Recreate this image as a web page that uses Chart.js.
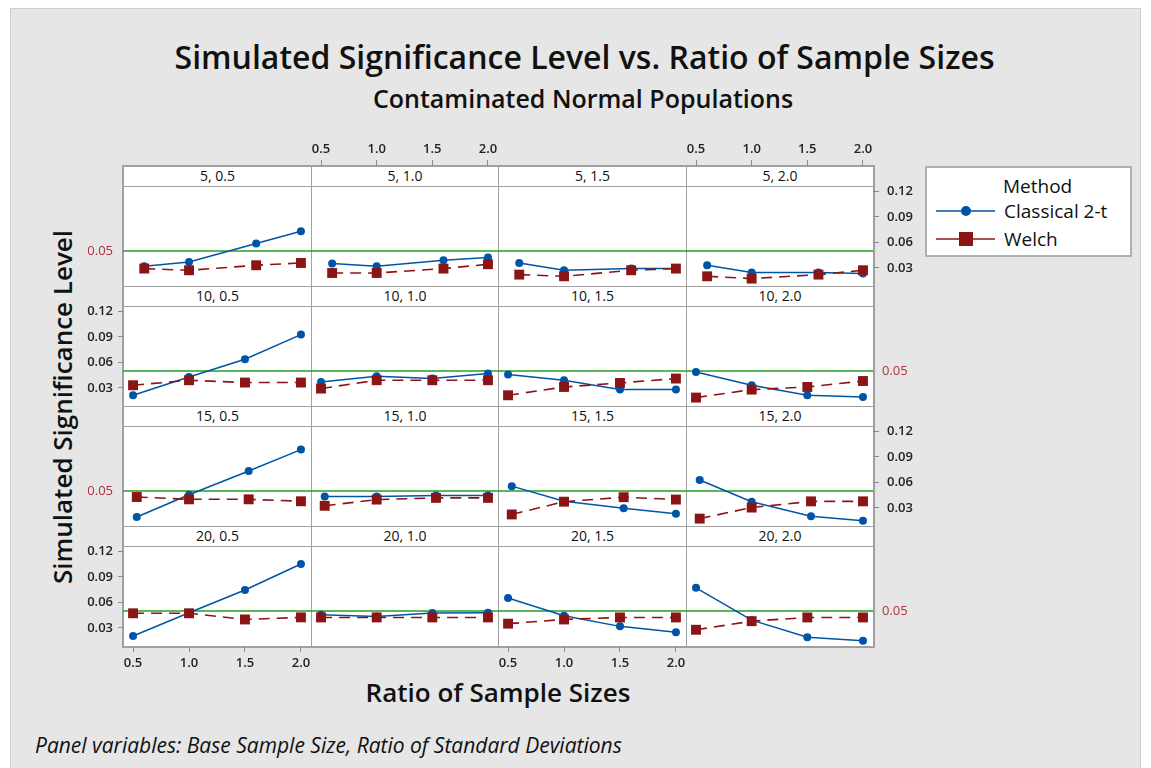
<!DOCTYPE html>
<html lang="en">
<head>
  <meta charset="UTF-8" />
  <title>Simulated Significance Level vs. Ratio of Sample Sizes</title>
  <script src="https://cdn.jsdelivr.net/npm/chart.js"></script>
  <style>
    body {
      margin: 0;
      background: #ffffff;
      font-family: "Open Sans", Arial, sans-serif;
    }
    #figure {
      position: absolute;
      left: 10px;
      top: 8px;
      width: 1131px;
      height: 770px;
      background: #e6e6e6;
      border: 1px solid #cfcfcf;
      box-sizing: border-box;
    }
    .txt {
      position: absolute;
      white-space: nowrap;
      color: #111;
    }
    .cell {
      position: absolute;
      background: #ffffff;
      border: 1px solid #a0a0a0;
      box-sizing: border-box;
    }
    .strip {
      font-size: 14px;
      text-align: center;
      line-height: 18px;
      color: #111;
    }
    .panel {
      position: absolute;
    }
    #frame {
      position: absolute;
      left: 122px;
      top: 165px;
      width: 753px;
      height: 483px;
      border: 1px solid #a0a0a0;
      box-sizing: border-box;
    }
    #legend {
      position: absolute;
      left: 925px;
      top: 166px;
      width: 207px;
      height: 91px;
      background: #fff;
      border: 2px solid #b0b0b0;
      box-sizing: border-box;
      font-size: 19px;
      line-height: 20px;
      color: #111;
    }
    #legend .row {
      position: absolute;
      left: 8px;
      height: 14px;
    }
    #legend svg { position: absolute; left: 0; top: 0; }
    #legend span { position: absolute; left: 69px; white-space: nowrap; }
  </style>
</head>
<body>
  <div id="figure"></div>
  <div id="grid"></div>
  <div id="frame"></div>

  <div class="txt" style="left:0;width:1169px;top:37px;line-height:40px;text-align:center;font-size:32px;font-weight:600;">Simulated Significance Level vs. Ratio of Sample Sizes</div>
  <div class="txt" style="left:0;width:1166px;top:83px;line-height:30px;text-align:center;font-size:25px;font-weight:600;">Contaminated Normal Populations</div>
  <div class="txt" style="left:62px;top:407px;line-height:30px;font-size:26px;font-weight:600;transform:translate(-50%,-50%) rotate(-90deg);">Simulated Significance Level</div>
  <div class="txt" style="left:0;width:996px;top:677px;line-height:30px;text-align:center;font-size:26px;font-weight:600;">Ratio of Sample Sizes</div>
  <div class="txt" style="left:35px;top:733px;line-height:24px;font-size:21px;font-style:italic;">Panel variables: Base Sample Size, Ratio of Standard Deviations</div>

  <div id="legend">
    <span style="left:76px;top:8px;">Method</span>
    <div class="row" style="top:37px;">
      <svg width="62" height="12"><line x1="1" y1="6" x2="60" y2="6" stroke="#0054a6" stroke-width="1.5"/><circle cx="31" cy="6" r="5" fill="#0054a6"/></svg>
      <span style="top:-4px;">Classical 2-t</span>
    </div>
    <div class="row" style="top:64px;">
      <svg width="62" height="14"><line x1="1" y1="7" x2="60" y2="7" stroke="#8b1414" stroke-width="1.5"/><rect x="24" y="0" width="14" height="14" fill="#8b1414"/></svg>
      <span style="top:-3px;">Welch</span>
    </div>
  </div>

  <script>
    // panel variables
    const baseSizes = [5, 10, 15, 20];
    const sdRatios = ['0.5', '1.0', '1.5', '2.0'];

    // ratio of sample sizes actually used for each base size
    const ratiosN5 = [0.6, 1.0, 1.6, 2.0];
    const ratiosN10 = [0.5, 1.0, 1.5, 2.0];
    const ratiosN15 = [0.533, 1.0, 1.533, 2.0];
    const ratiosN20 = [0.5, 1.0, 1.5, 2.0];

    // simulated significance level, one row per ratio of SDs (0.5, 1.0, 1.5, 2.0)
    const classicalN5 = [
      [0.032, 0.037, 0.0587, 0.0732],
      [0.0352, 0.032, 0.0391, 0.0422],
      [0.0359, 0.0273, 0.0293, 0.0293],
      [0.0332, 0.0246, 0.0246, 0.0234]
    ];
    const welchN5 = [
      [0.0293, 0.0273, 0.0332, 0.0359],
      [0.0241, 0.0241, 0.0293, 0.0344],
      [0.0222, 0.0202, 0.0273, 0.0293],
      [0.0202, 0.0175, 0.0222, 0.0273]
    ];
    const classicalN10 = [
      [0.0214, 0.0429, 0.0638, 0.0928],
      [0.0371, 0.0438, 0.0411, 0.0469],
      [0.0458, 0.0391, 0.0281, 0.0281],
      [0.0488, 0.0332, 0.0214, 0.0194]
    ];
    const welchN10 = [
      [0.0332, 0.0391, 0.0364, 0.0364],
      [0.0293, 0.0391, 0.0391, 0.0391],
      [0.0214, 0.0312, 0.0359, 0.0411],
      [0.0187, 0.0281, 0.0312, 0.0382]
    ];
    const classicalN15 = [
      [0.0194, 0.0455, 0.0735, 0.0987],
      [0.0435, 0.0435, 0.0447, 0.0447],
      [0.0557, 0.038, 0.0297, 0.0232],
      [0.063, 0.0374, 0.0204, 0.0151]
    ];
    const welchN15 = [
      [0.0429, 0.0402, 0.0402, 0.0379],
      [0.0326, 0.0399, 0.0419, 0.0419],
      [0.0224, 0.0374, 0.0427, 0.0399],
      [0.0175, 0.0305, 0.0378, 0.0378]
    ];
    const classicalN20 = [
      [0.0206, 0.048, 0.0747, 0.1053],
      [0.0455, 0.0435, 0.0475, 0.048],
      [0.0653, 0.0445, 0.0319, 0.0251],
      [0.0773, 0.0392, 0.0191, 0.015]
    ];
    const welchN20 = [
      [0.0473, 0.0473, 0.040, 0.0425],
      [0.0424, 0.0424, 0.0424, 0.0424],
      [0.0351, 0.040, 0.0424, 0.0424],
      [0.0279, 0.038, 0.0424, 0.0424]
    ];

    const refLevel = 0.05;
    const yTicks = [0.03, 0.06, 0.09, 0.12];
    const xTicks = [0.5, 1.0, 1.5, 2.0];

    const ratiosByRow = [ratiosN5, ratiosN10, ratiosN15, ratiosN20];
    const classicalByRow = [classicalN5, classicalN10, classicalN15, classicalN20];
    const welchByRow = [welchN5, welchN10, welchN15, welchN20];

    // axis ranges (the y range also covers the strip above each plot)
    const xMin = 0.41, xMax = 2.09;
    const yMin = 0.0088, yMax = 0.15;

    // layout
    const gridLeft = 123, gridTop = 166, colW = 187.5, stripH = 20, plotH = 100;
    const M = { l: 50, r: 50, t: 30, b: 30 };

    const blue = '#0054a6';
    const red = '#8b1414';
    const green = '#22a022';
    const tickFont = { family: 'Open Sans', size: 13, weight: '600' };
    const refFont = { family: 'Open Sans', size: 13 };

    const grid = document.getElementById('grid');

    function addDiv(cls, left, top, w, h, text) {
      const d = document.createElement('div');
      d.className = cls;
      d.style.left = left + 'px';
      d.style.top = top + 'px';
      d.style.width = w + 'px';
      d.style.height = h + 'px';
      if (text) d.textContent = text;
      grid.appendChild(d);
      return d;
    }

    function pts(xs, ys) {
      return xs.map((x, i) => ({ x: x, y: ys[i] }));
    }

    for (let r = 0; r < 4; r++) {
      for (let c = 0; c < 4; c++) {
        const x0 = Math.round(gridLeft + c * colW);
        const x1 = Math.round(gridLeft + (c + 1) * colW);
        const y0 = gridTop + r * (stripH + plotH);
        addDiv('cell strip', x0, y0, x1 - x0 + 1, stripH + 1, baseSizes[r] + ', ' + sdRatios[c]);
        addDiv('cell', x0, y0 + stripH, x1 - x0 + 1, plotH + 1);
      }
    }

    for (let r = 0; r < 4; r++) {
      for (let c = 0; c < 4; c++) {
        const x0 = Math.round(gridLeft + c * colW);
        const x1 = Math.round(gridLeft + (c + 1) * colW);
        const y0 = gridTop + r * (stripH + plotH);
        const w = x1 - x0 + M.l + M.r;
        const h = stripH + plotH + M.t + M.b;

        const wrap = document.createElement('div');
        wrap.className = 'panel';
        wrap.style.left = (x0 - M.l) + 'px';
        wrap.style.top = (y0 - M.t) + 'px';
        const cv = document.createElement('canvas');
        cv.width = w;
        cv.height = h;
        wrap.appendChild(cv);
        document.body.appendChild(wrap);

        const evenRow = r % 2 === 0;
        const showLeft = c === 0, showRight = c === 3;
        const showBottom = r === 3 && c % 2 === 0;
        const showTop = r === 0 && c % 2 === 1;

        const xAxis = (pos, show, pad) => ({
          type: 'linear', position: pos, min: xMin, max: xMax,
          afterFit: s => { s.height = pos === 'top' ? M.t : M.b; },
          afterBuildTicks: s => { s.ticks = xTicks.map(v => ({ value: v })); },
          ticks: { display: show, font: tickFont, color: '#222', padding: pad, maxRotation: 0,
                   callback: v => v.toFixed(1) },
          grid: { display: true, drawOnChartArea: false, tickLength: 6, tickWidth: 1,
                  tickColor: show ? '#8a8a8a' : 'transparent', color: 'transparent' },
          border: { display: false }
        });

        const yAxis = (pos, show, refOnly) => ({
          type: 'linear', position: pos, min: yMin, max: yMax,
          afterFit: s => { s.width = pos === 'left' ? M.l : M.r; },
          afterBuildTicks: s => {
            s.ticks = (refOnly ? [refLevel] : yTicks).map(v => ({ value: v }));
          },
          ticks: { display: show, font: refOnly ? refFont : tickFont,
                   color: refOnly ? '#b0303c' : '#222',
                   padding: pos === 'left' ? 5 : (refOnly ? 3 : 8),
                   callback: v => v.toFixed(2) },
          grid: { display: true, drawOnChartArea: false, tickLength: pos === 'left' ? 5 : 6, tickWidth: 1,
                  tickColor: (show && !refOnly) ? '#8a8a8a' : 'transparent', color: 'transparent' },
          border: { display: false }
        });

        const xs = ratiosByRow[r];
        new Chart(cv.getContext('2d'), {
          type: 'line',
          data: {
            datasets: [
              {
                label: 'Welch',
                data: pts(xs, welchByRow[r][c]),
                borderColor: red,
                backgroundColor: red,
                borderWidth: 1.6,
                borderDash: [11, 7],
                pointStyle: 'rect',
                pointRadius: 7,
                pointBorderWidth: 0,
                order: 1
              },
              {
                label: 'Classical 2-t',
                data: pts(xs, classicalByRow[r][c]),
                borderColor: blue,
                backgroundColor: blue,
                borderWidth: 1.5,
                pointStyle: 'circle',
                pointRadius: 4,
                pointBorderWidth: 0,
                order: 2
              },
              {
                label: 'alpha',
                data: [{ x: xMin, y: refLevel }, { x: xMax, y: refLevel }],
                borderColor: green,
                borderWidth: 1.6,
                pointRadius: 0,
                order: 3
              }
            ]
          },
          options: {
            responsive: false,
            animation: false,
            layout: { padding: 0 },
            plugins: { legend: { display: false }, tooltip: { enabled: false } },
            scales: {
              x: xAxis('bottom', showBottom, 3),
              x2: xAxis('top', showTop, 3),
              y: yAxis('left', showLeft, evenRow),
              y2: yAxis('right', showRight, !evenRow)
            }
          }
        });
      }
    }
  </script>
</body>
</html>
